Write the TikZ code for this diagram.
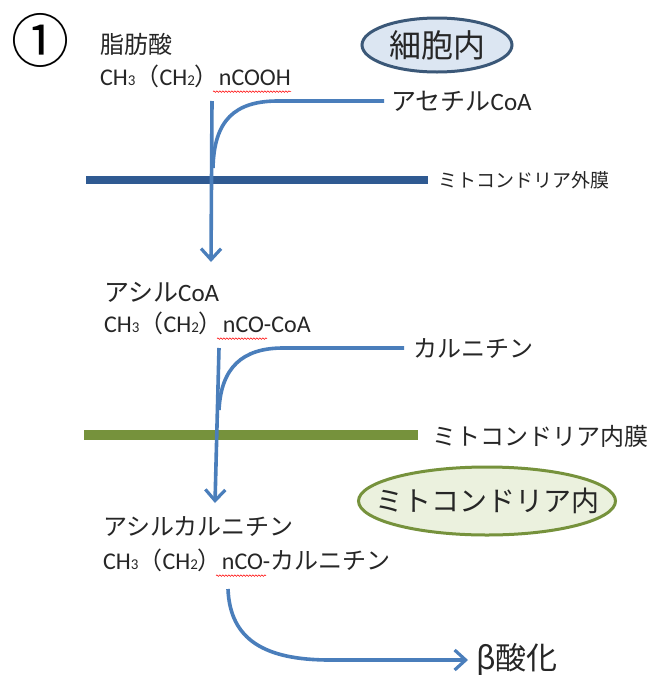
\documentclass[tikz,border=0pt]{standalone}
\usepackage{fontspec}
\newfontfamily\jp{Noto Sans CJK JP}
\newfontfamily\lat{Carlito}
\usetikzlibrary{arrows.meta,decorations.pathmorphing,shapes.geometric}
\definecolor{arr}{HTML}{4A7EBB}
\definecolor{outm}{HTML}{2F5A92}
\definecolor{inm}{HTML}{76923C}
\definecolor{txt}{HTML}{262626}
\definecolor{ell1}{HTML}{DCE6F2}
\definecolor{ell1b}{HTML}{3B5878}
\definecolor{ell2}{HTML}{EBF1DE}
\newcommand\fsz[1]{\fontsize{#1}{#1}\selectfont}
\newcommand\formula[1]{{\lat CH{\fsz{15}3}}{\jp （}{\lat CH{\fsz{15}2}}{\jp ）}{\lat #1}}
\tikzset{
  lbl/.style={anchor=west, inner sep=0pt, text=txt, font=\jp\fsz{24}},
  flow/.style={draw=arr, line width=3.6pt, -{Straight Barb[length=11pt,width=20pt,line width=3.2pt]}},
  feed/.style={draw=arr, line width=3.6pt},
  memb/.style={line width=#1},
  bubble/.style={ellipse, line width=3pt, inner sep=0pt},
  squig/.style={draw=red, line width=0.5pt, decorate, decoration={snake, amplitude=0.8pt, segment length=3pt}}
}
\begin{document}
\begin{tikzpicture}[x=1pt,y=-1pt]
\useasboundingbox (0,0) rectangle (650,675);
\fill[white] (0,0) rectangle (650,675);
% numbering
\node[anchor=center, inner sep=0pt, font=\jp\fsz{58}] (num) at (41,40) {①};
% bubbles
\node[bubble, draw=ell1b, fill=ell1, minimum width=150pt, minimum height=54pt] (cell) at (437,45) {};
\node[inner sep=0pt, text=txt, font=\jp\fsz{32}] (celltxt) at (cell.center) {細胞内};
\node[bubble, draw=inm, fill=ell2, minimum width=257pt, minimum height=68pt] (mito) at (487,501) {};
\node[inner sep=0pt, text=txt, font=\jp\fsz{28}] (mitotxt) at (mito.center) {ミトコンドリア内};
% labels
\node[lbl] (fa) at (100,44) {脂肪酸};
\node[lbl] (faf) at (100,76) {\formula{nCOOH}};
\node[lbl, font=\jp\fsz{25}] (acetyl) at (391,101) {アセチル{\lat CoA}};
\node[lbl, font=\jp\fsz{19}] (outl) at (438,180) {ミトコンドリア外膜};
\node[lbl, font=\jp\fsz{25}] (acyl) at (104,292) {アシル{\lat CoA}};
\node[lbl] (acylf) at (104,323) {\formula{nCO-CoA}};
\node[lbl] (carn) at (413,349) {カルニチン};
\node[lbl] (inl) at (432,436) {ミトコンドリア内膜};
\node[lbl] (ac) at (103,527) {アシルカルニチン};
\node[lbl] (acf) at (103,560) {\formula{nCO-}{\jp カルニチン}};
\node[anchor=west, inner sep=0pt, text=txt, font=\jp\fsz{31}] (beta) at (476,660) {β酸化};
% spell-check squiggles
\draw[squig] (faf.south west) ++(113,4) -- ++(78,0);
\draw[squig] (acylf.south west) ++(113,4) -- ++(50,0);
\draw[squig] (acf.south west) ++(113,4) -- ++(50,0);
% membranes
\coordinate (o1) at (86,180); \coordinate (o2) at (428,180);
\draw[memb=8.5pt, outm] (o1) -- (o2);
\coordinate (i1) at (84,435); \coordinate (i2) at (418,435);
\draw[memb=10pt, inm] (i1) -- (i2);
% arrows
\coordinate (s1) at (212,101); \coordinate (e1) at (211,262);
\draw[flow] (s1) -- (e1);
\coordinate (f1) at (384,101);
\draw[feed] (f1) -- (278,101) .. controls (235,101) and (214,120) .. (213,168);
\coordinate (s2) at (219,348); \coordinate (e2) at (215,503);
\draw[flow] (s2) -- (e2);
\coordinate (f2) at (404,348);
\draw[feed] (f2) -- (283,348) .. controls (242,348) and (221,368) .. (219,410);
\coordinate (s3) at (228,589);
\draw[flow, shorten >=8pt] (s3) .. controls (230,640) and (265,660) .. (330,660) -- (beta.west);
\end{tikzpicture}
\end{document}
